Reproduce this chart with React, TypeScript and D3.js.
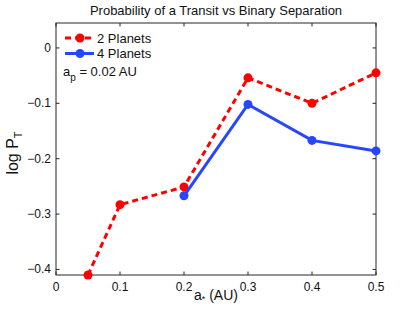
import React from 'react';
import * as d3 from 'd3';

const xTicks = [0, 0.1, 0.2, 0.3, 0.4, 0.5];
const yTicks = [0, -0.1, -0.2, -0.3, -0.4];

const sepTwo = [0.05, 0.1, 0.2, 0.3, 0.4, 0.5];
const probTwo = [-0.41, -0.283, -0.251, -0.054, -0.1, -0.045];

const sepFour = [0.2, 0.3, 0.4, 0.5];
const probFour = [-0.267, -0.102, -0.167, -0.186];

const seriesNames = ['2 Planets', '4 Planets'];

export default function App() {
    const width = 415, height = 313;
    const margin = {top: 23, right: 39, bottom: 38, left: 56};
    const innerW = width - margin.left - margin.right;
    const innerH = height - margin.top - margin.bottom;

    const x = d3.scaleLinear().domain([0, 0.5]).range([0, innerW]);
    const y = d3.scaleLinear().domain([-0.41, 0.045]).range([innerH, 0]);

    const line = d3.line<[number, number]>()
        .x(d => x(d[0]))
        .y(d => y(d[1]));

    const two: [number, number][] = sepTwo.map((s, i) => [s, probTwo[i]]);
    const four: [number, number][] = sepFour.map((s, i) => [s, probFour[i]]);

    const red = '#ff0000', blue = '#2846ff';
    const axisCol = '#262626';
    const font = 'Liberation Sans, Arial, sans-serif';

    return (
        <svg width={width} height={height}
            style={{position: 'absolute', left: 0, top: 0, background: '#fff'}}
            fontFamily={font}>
            <text x={margin.left + innerW / 2} y={15} textAnchor='middle' fontSize={13} fill='#111'>
                Probability of a Transit vs Binary Separation
            </text>
            <g transform={'translate(' + margin.left + ',' + margin.top + ')'}>
                {/* ticks, inward, on all four sides */}
                {xTicks.map(t => (
                    <g key={'x' + t}>
                        <line x1={x(t)} x2={x(t)} y1={innerH} y2={innerH - 3.5} stroke={axisCol}/>
                        <line x1={x(t)} x2={x(t)} y1={0} y2={3.5} stroke={axisCol}/>
                        <text x={x(t)} y={innerH + 16} textAnchor='middle' fontSize={12} fill='#111'>{t}</text>
                    </g>
                ))}
                {yTicks.map(t => (
                    <g key={'y' + t}>
                        <line x1={0} x2={3.5} y1={y(t)} y2={y(t)} stroke={axisCol}/>
                        <line x1={innerW} x2={innerW - 3.5} y1={y(t)} y2={y(t)} stroke={axisCol}/>
                        <text x={-5} y={y(t) + 4} textAnchor='end' fontSize={12} fill='#111'>
                            {t === 0 ? '0' : '\u2212' + Math.abs(t)}
                        </text>
                    </g>
                ))}
                <rect width={innerW} height={innerH} fill='none' stroke={axisCol} strokeWidth={1}/>

                <path d={line(two) || ''} fill='none' stroke={red} strokeWidth={3} strokeDasharray='6,4'/>
                {two.map((d, i) => (
                    <circle key={'r' + i} cx={x(d[0])} cy={y(d[1])} r={4.5} fill={red}/>
                ))}
                <path d={line(four) || ''} fill='none' stroke={blue} strokeWidth={3}/>
                {four.map((d, i) => (
                    <circle key={'b' + i} cx={x(d[0])} cy={y(d[1])} r={4.5} fill={blue}/>
                ))}

                {/* legend */}
                <line x1={9} x2={38} y1={15} y2={15} stroke={red} strokeWidth={3} strokeDasharray='6,4'/>
                <circle cx={24} cy={15} r={4.5} fill={red}/>
                <text x={41} y={19.5} fontSize={13} fill='#111'>{seriesNames[0]}</text>
                <line x1={9} x2={38} y1={30.5} y2={30.5} stroke={blue} strokeWidth={3}/>
                <circle cx={24} cy={30.5} r={4.5} fill={blue}/>
                <text x={41} y={35} fontSize={13} fill='#111'>{seriesNames[1]}</text>

                <text x={7} y={53} fontSize={13} fill='#111'>
                    a<tspan fontSize={10} dy={5}>p</tspan><tspan dy={-5}> = 0.02 AU</tspan>
                </text>
            </g>
            <text x={margin.left + innerW / 2} y={300} textAnchor='middle' fontSize={14} fill='#111'>
                a<tspan fontSize={9} dy={2}>*</tspan><tspan dy={-2}> (AU)</tspan>
            </text>
            <text transform={'translate(18,' + (margin.top + innerH / 2 + 4) + ') rotate(-90)'}
                textAnchor='middle' fontSize={16} fill='#111'>
                log P<tspan fontSize={11} dy={4}>T</tspan>
            </text>
        </svg>
    );
}
